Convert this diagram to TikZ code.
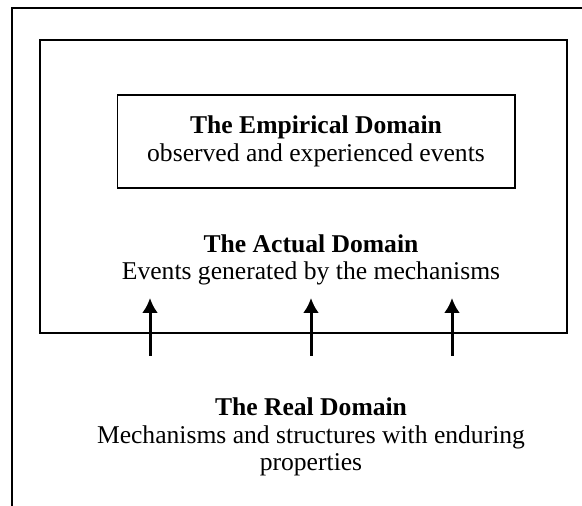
\documentclass[tikz,border=0pt]{standalone}
\usepackage{fontspec}
\setmainfont{Liberation Serif}
\usetikzlibrary{arrows.meta,positioning}

\begin{document}
\begin{tikzpicture}[x=0.5pt,y=-0.5pt,>=Latex,
  domtext/.style={align=center,font=\fontsize{12.8}{13.8}\selectfont,inner sep=0pt},
  dombox/.style={draw,line width=0.75pt,inner sep=0pt},
  genarrow/.style={line width=1.5pt,-{Latex[length=7.5pt,width=8pt]}}]
\useasboundingbox (0,0) rectangle (582,506);
\draw[line width=0.75pt] (12,506) -- (12,8) -- (582,8);
\node[dombox,minimum width=263.5pt,minimum height=146.5pt] (act_box) at (303.5,186.5) {};
\node[dombox,domtext,minimum width=198.75pt,minimum height=46.5pt] (emp_box) at (316,141.5) {\textbf{The Empirical Domain}\\observed and experienced events};
\node[domtext] (act_txt) at (311,260) {\textbf{The Actual Domain}\\Events generated by the mechanisms};
\node[domtext] (real_txt) at (311,437) {\textbf{The Real Domain}\\Mechanisms and structures with enduring\\properties};
\coordinate (m1) at (150,356);
\coordinate (m2) at (311,356);
\coordinate (m3) at (452,356);
\coordinate (e1) at (150,298);
\coordinate (e2) at (311,298);
\coordinate (e3) at (452,298);
\draw[genarrow] (m1) -- (e1);
\draw[genarrow] (m2) -- (e2);
\draw[genarrow] (m3) -- (e3);
\end{tikzpicture}
\end{document}
